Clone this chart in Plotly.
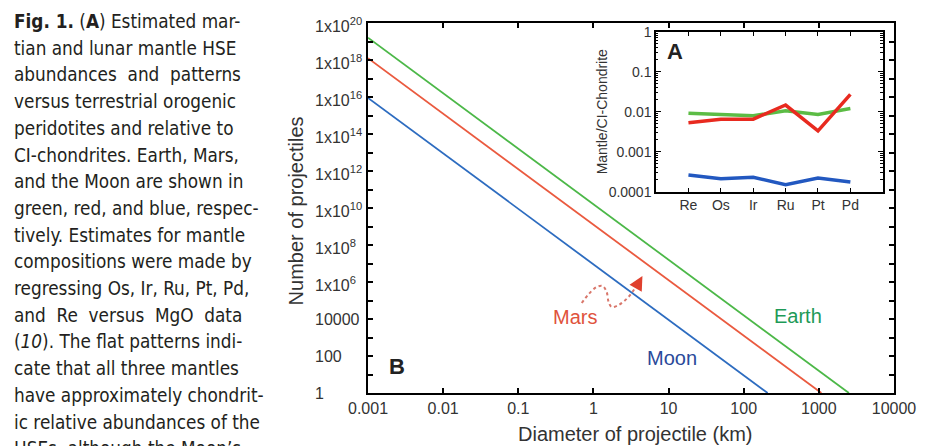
import math
import plotly.graph_objects as go

# Page geometry (pixels) and the main plotting area
W, H = 928, 446
ML, MR, MT, MB = 368, 31, 23, 53
PW = W - ML - MR
PH = H - MT - MB


def px(x):
    """Horizontal page pixel -> paper fraction."""
    return (x - ML) / PW


def py(y):
    """Vertical page pixel (from top) -> paper fraction."""
    return (H - MB - y) / PH


# ---- Panel B: number of projectiles vs. projectile diameter ----
diameter_earth = [0.001, 2510]
number_earth = [1.6e19, 1]
diameter_mars = [0.001, 1080]
number_mars = [1.26e18, 1]
diameter_moon = [0.001, 208]
number_moon = [9.0e15, 1]

x_tick_vals = [0.001, 0.01, 0.1, 1, 10, 100, 1000, 10000]
x_tick_text = ["0.001", "0.01", "0.1", "1", "10", "100", "1000", "10000"]
y_label_vals = [1, 1e2, 1e4, 1e6, 1e8, 1e10, 1e12, 1e14, 1e16, 1e18, 1e20]
y_label_text = ["1", "100", "10000", "1x10<sup>6</sup>", "1x10<sup>8</sup>",
                "1x10<sup>10</sup>", "1x10<sup>12</sup>", "1x10<sup>14</sup>",
                "1x10<sup>16</sup>", "1x10<sup>18</sup>", "1x10<sup>20</sup>"]

# ---- Panel A: mantle HSE abundances normalised to CI chondrite ----
elements = ["Re", "Os", "Ir", "Ru", "Pt", "Pd"]
earth_hse = [0.0091, 0.0085, 0.0079, 0.0106, 0.0085, 0.0120]
mars_hse = [0.0053, 0.0065, 0.0065, 0.0147, 0.0033, 0.027]
moon_hse = [0.00026, 0.00021, 0.00023, 0.00015, 0.00022, 0.000175]
inset_tick_vals = [1e-4, 1e-3, 1e-2, 0.1, 1]
inset_tick_text = ["0.0001", "0.001", "0.01", "0.1", "1"]

# Figure caption, one string per typeset line
caption_lines = [
    "<b>Fig. 1.</b> (<b>A</b>) Estimated mar-",
    "tian and lunar mantle HSE",
    "abundances  and  patterns",
    "versus terrestrial orogenic",
    "peridotites and relative to",
    "CI-chondrites. Earth, Mars,",
    "and the Moon are shown in",
    "green, red, and blue, respec-",
    "tively. Estimates for mantle",
    "compositions were made by",
    "regressing Os, Ir, Ru, Pt, Pd,",
    "and  Re  versus  MgO  data",
    "(<i>10</i>). The flat patterns indi-",
    "cate that all three mantles",
    "have approximately chondrit-",
    "ic relative abundances of the",
    "HSEs, although the Moon\u2019s",
]

# Hand-drawn pointer from the "Mars" label towards the Mars curve (page pixels)
pointer_x = [583, 590, 598, 604, 608, 610, 613, 620, 629, 636, 640]
pointer_y = [303, 294, 287, 286, 292, 302, 307, 305, 298, 289, 283]

CHART_FONT = "Liberation Sans, Arial, Helvetica, sans-serif"
CAPTION_FONT = "Liberation Sans Narrow, DejaVu Sans Condensed, Lato, sans-serif"
TEXT = "#333333"

fig = go.Figure()

fig.add_trace(go.Scatter(x=diameter_earth, y=number_earth, mode="lines",
                         line=dict(color="#4cb848", width=1.8), name="Earth",
                         xaxis="x", yaxis="y"))
fig.add_trace(go.Scatter(x=diameter_mars, y=number_mars, mode="lines",
                         line=dict(color="#ea5a3f", width=1.8), name="Mars",
                         xaxis="x", yaxis="y"))
fig.add_trace(go.Scatter(x=diameter_moon, y=number_moon, mode="lines",
                         line=dict(color="#2d6cc0", width=1.8), name="Moon",
                         xaxis="x", yaxis="y"))

fig.add_trace(go.Scatter(x=elements, y=earth_hse, mode="lines",
                         line=dict(color="#5cbc45", width=3.5), name="Earth HSE",
                         xaxis="x2", yaxis="y2"))
fig.add_trace(go.Scatter(x=elements, y=mars_hse, mode="lines",
                         line=dict(color="#e82a1f", width=3.5), name="Mars HSE",
                         xaxis="x2", yaxis="y2"))
fig.add_trace(go.Scatter(x=elements, y=moon_hse, mode="lines",
                         line=dict(color="#2258c0", width=3.5), name="Moon HSE",
                         xaxis="x2", yaxis="y2"))

# Dotted wavy pointer, drawn on a hidden pixel-unit overlay
fig.add_trace(go.Scatter(x=pointer_x, y=pointer_y, mode="lines",
                         line=dict(color="#d9776b", width=2, dash="dot",
                                   shape="spline", smoothing=1.0),
                         name="pointer", hoverinfo="skip",
                         xaxis="x3", yaxis="y3"))

axis_common = dict(showline=True, linecolor="black", linewidth=2, mirror="ticks",
                   ticks="inside", tickcolor="black", showgrid=False, zeroline=False)

inset_minor = [m * 10.0 ** e for e in range(-4, 0) for m in range(2, 10)]

fig.update_layout(
    width=W, height=H,
    margin=dict(l=ML, r=MR, t=MT, b=MB, pad=0),
    paper_bgcolor="white", plot_bgcolor="white",
    showlegend=False,
    font=dict(family=CHART_FONT, color=TEXT),
    xaxis=dict(type="log", range=[-3, 4], tickvals=x_tick_vals, ticktext=x_tick_text,
               ticklen=5, tickwidth=1.5, tickfont=dict(size=16, color=TEXT),
               domain=[0, 1], anchor="y", **axis_common),
    yaxis=dict(type="log", range=[0, 20], tickvals=[10.0 ** k for k in range(21)],
               showticklabels=False, ticklen=5, tickwidth=1.5,
               domain=[0, 1], anchor="x", **axis_common),
    xaxis2=dict(type="category", range=[-1, 6], ticklen=4, tickwidth=1.2,
                tickfont=dict(size=14, color=TEXT),
                domain=[px(657.7), px(885.7)], anchor="y2",
                **{**axis_common, "linewidth": 1.6}),
    yaxis2=dict(type="log", range=[-4, 0], tickvals=inset_tick_vals,
                ticktext=inset_tick_text, ticklen=5, tickwidth=1.2,
                tickfont=dict(size=14, color=TEXT),
                minor=dict(tickvals=inset_minor, ticks="inside", ticklen=2.5,
                           tickcolor="black", showgrid=False),
                domain=[py(191.7), py(31.7)], anchor="x2",
                **{**axis_common, "linewidth": 1.6}),
    xaxis3=dict(overlaying="x", anchor="y3", range=[ML, W - MR], visible=False),
    yaxis3=dict(overlaying="y", anchor="x3", range=[H - MB, MT], visible=False),
)

annotations = []

# Left-aligned tick labels of the vertical axis
for v, t in zip(y_label_vals, y_label_text):
    annotations.append(dict(xref="paper", yref="y", x=px(313), y=math.log10(v),
                            text=t, showarrow=False, xanchor="left", yanchor="middle",
                            yshift=-2 if "sup" in t else 0,
                            font=dict(size=16, color=TEXT)))

# Axis titles
annotations.append(dict(xref="paper", yref="paper", x=px(637), y=py(434),
                        text="Diameter of projectile (km)", showarrow=False,
                        xanchor="center", yanchor="middle",
                        font=dict(size=20, color=TEXT)))
annotations.append(dict(xref="paper", yref="paper", x=px(296), y=py(211),
                        text="Number of projectiles", showarrow=False, textangle=-90,
                        xanchor="center", yanchor="middle",
                        font=dict(size=20, color=TEXT)))
annotations.append(dict(xref="paper", yref="paper", x=px(603), y=py(111.7),
                        text="Mantle/CI-Chondrite", showarrow=False, textangle=-90,
                        xanchor="center", yanchor="middle",
                        font=dict(size=14, color=TEXT)))

# Body labels and panel letters
for text, x, y, col in [("Mars", 575.7, 316.7, "#e0533c"),
                        ("Earth", 800.5, 315.7, "#1e9a57"),
                        ("Moon", 674.2, 358.3, "#2a4a9a")]:
    annotations.append(dict(xref="paper", yref="paper", x=px(x), y=py(y), text=text,
                            showarrow=False, xanchor="center", yanchor="middle",
                            font=dict(size=20, color=col)))
annotations.append(dict(xref="paper", yref="paper", x=px(397), y=py(366.7),
                        text="<b>B</b>", showarrow=False, xanchor="center",
                        yanchor="middle", font=dict(size=22, color="#222222")))
annotations.append(dict(xref="paper", yref="paper", x=px(677), y=py(51.3),
                        text="<b>A</b>", showarrow=False, xanchor="center",
                        yanchor="middle", font=dict(size=22, color="#222222")))

# Arrow head at the end of the wavy pointer
annotations.append(dict(xref="paper", yref="paper", x=px(644), y=py(276),
                        ax=-5, ay=9, text="", showarrow=True, arrowhead=2,
                        arrowsize=1.4, arrowwidth=2, arrowcolor="#e0402e",
                        standoff=0))

# Caption column
for i, line in enumerate(caption_lines):
    annotations.append(dict(xref="paper", yref="paper", x=px(10), y=py(21.5 + 26.7 * i),
                            text=line, showarrow=False, xanchor="left",
                            yanchor="middle", align="left",
                            font=dict(size=18.8, color="#231f20", family=CAPTION_FONT)))

fig.update_layout(annotations=annotations)

fig.write_html("out.html")
